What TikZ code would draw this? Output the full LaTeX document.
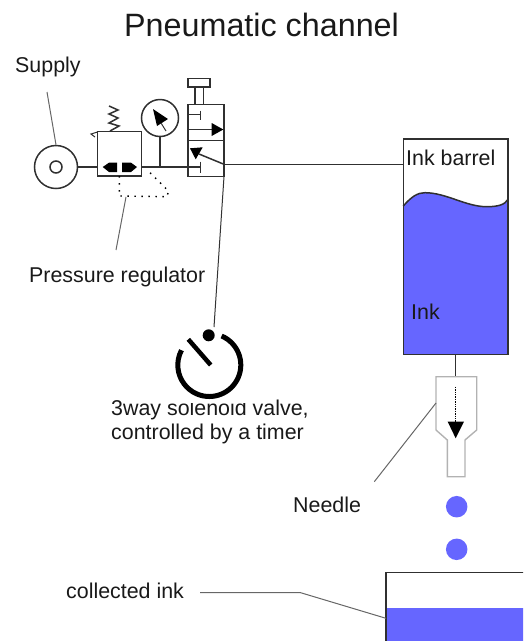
\documentclass[tikz,border=0pt]{standalone}
\usepackage{fontspec}
\setmainfont{Liberation Sans}
\usetikzlibrary{calc}
\definecolor{inkblue}{HTML}{6666FF}
\definecolor{wiregray}{HTML}{303030}
\begin{document}
\begin{tikzpicture}[x=1pt,y=-1pt,%
                    wire/.style={draw=wiregray,line width=1.5pt},%
                    leader/.style={draw=gray!80!black,line width=1pt},%
                    solid tip/.style={fill=black,draw=none},%
                    label/.style={inner sep=0pt,anchor=base west,font=\fontsize{21.4}{25}\selectfont,text=black!90},%
                    drop/.style={circle,fill=inkblue,inner sep=0pt,minimum size=21.5pt}%
                    ]%
\useasboundingbox (0,0) rectangle (523,641);%
\clip (0,0) rectangle (523,641);%
% texts
\node[label,font=\fontsize{32.3}{38}\selectfont] (title) at (124,36) {Pneumatic channel};%
\node[label] (supplytext) at (15,72) {Supply};%
\node[label] (regtext) at (29,282) {Pressure regulator};%
\node[label] (valvetext) at (111,415) {3way solenoid valve,};%
\node[label] (timertext) at (111,439) {controlled by a timer};%
\node[label] (needletext) at (293,512) {Needle};%
\node[label] (collecttext) at (66,598) {collected ink};%
\fill[white] (172,392) rectangle (250,403);%
% supply
\node[circle,wire,minimum size=43pt,inner sep=0pt] (supply) at (56,167) {};%
\node[circle,wire,minimum size=12pt,inner sep=0pt] at (supply) {};%
\coordinate (supplytop) at (47,92);%
\draw[leader] (supplytop) -- (supply.north);%
% regulator
\node[rectangle,wire,minimum width=44pt,minimum height=44.5pt,inner sep=0pt] (reg) at (119.5,153.7) {};%
\draw[wire] (supply) ++(21.5,0) -- (supply -| reg.west);%
\draw[wire] (110,131) -- (119,126) -- (109,123) -- (118,118) -- (109,114) -- (118,110) -- (109,106);%
\draw[wire,line width=1pt] (97.5,132) -- (91,134) -- (95,137);%
\fill[solid tip] (102.7,167) -- (109,162.7) -- (117,162.7) -- (117,172) -- (109,172) -- cycle;%
\fill[solid tip] (122,162.7) -- (131,162.7) -- (137,167) -- (131,172) -- (122,172) -- cycle;%
\draw[black,line width=1.4pt,dash pattern=on 1.5pt off 5.5pt] (119.3,176) -- (119.3,196) -- (167,196.7) -- (168.5,191) -- (150,172.7);%
\coordinate (regbend) at (126,197);%
\coordinate (regend) at (116,250);%
\draw[leader] (regbend) -- (regend);%
% gauge
\node[circle,wire,minimum size=37pt,inner sep=0pt] (gauge) at (160,118) {};%
\coordinate (gaugefoot) at (160,167);%
\draw[wire] (gauge.south) -- (gaugefoot);%
\fill[solid tip] (153,109) -- (168,119) -- (157,126) -- cycle;%
\draw[wire,line width=1pt] (161,123) -- (166,131);%
% valve
\node[rectangle,wire,minimum width=36pt,minimum height=72pt,inner sep=0pt] (valve) at (206,140.5) {};%
\node[rectangle,wire,minimum width=8.5pt,minimum height=17.5pt,inner sep=0pt] (stem) at (199.2,95.5) {};%
\node[rectangle,wire,minimum width=22pt,minimum height=8.5pt,inner sep=0pt] (button) at (199.2,82.5) {};%
\draw[wire] (valve.west) -- (valve.east);%
\draw[wire] (188,114.3) -- (200.7,114.3) (200.7,110.7) -- (200.7,120);%
\draw[wire] (188,129.3) -- (212,129.3);%
\fill[solid tip] (211.7,123) -- (223.3,129.5) -- (211.7,136) -- cycle;%
\coordinate (valveport) at (224,164.3);%
\coordinate (valvefoot) at (224,176.5);%
\draw[wire] (reg.east |- gaugefoot) -- (200.7,167) (200.7,161.7) -- (200.7,173);%
\draw[wire] (199,154) -- (valveport);%
\fill[solid tip] (190,148.3) -- (202.7,147.3) -- (195.7,159.3) -- cycle;%
% barrel
\fill[inkblue] (403.3,206) .. controls (412,196) and (418,192.7) .. (425,192.7) .. controls (446,192.7) and (466,206.7) .. (486.7,206.7) .. controls (497,206.7) and (505,205) .. (508,199.3) -- (508,354.3) -- (403.3,354.3) -- cycle;%
\draw[wire] (403.3,206) .. controls (412,196) and (418,192.7) .. (425,192.7) .. controls (446,192.7) and (466,206.7) .. (486.7,206.7) .. controls (497,206.7) and (505,205) .. (508,199.3);%
\node[rectangle,wire,minimum width=104.7pt,minimum height=215.3pt,inner sep=0pt] (barrel) at (455.65,246.65) {};%
\node[label] (barreltext) at (406,165.7) {Ink barrel};%
\node[label] (inktext) at (411,319) {Ink};%
\draw[wire] (valveport) -- (valveport -| barrel.west);%
% needle
\coordinate (needletop) at (455.7,376.7);%
\draw[wire] (needletop |- barrel.south) -- (needletop);%
\draw[draw=black!30,line width=1.4pt] (436,376.7) -- (476.7,376.7) -- (476.7,430) -- (465,440) -- (465,476.7) -- (447.3,476.7) -- (447.3,440) -- (436,430) -- cycle;%
\draw[black,line width=1.4pt,densely dotted] (455.7,386.7) -- (455.7,424);%
\fill[solid tip] (447.7,421.7) -- (464,421.7) -- (455.7,438.3) -- cycle;%
\coordinate (needleside) at (436,403);%
\coordinate (needleend) at (374.3,481.7);%
\draw[leader] (needleside) -- (needleend);%
\node[drop] (dropa) at (456.7,506.7) {};%
\node[drop] (dropb) at (456.7,549.3) {};%
% collector
\fill[inkblue] (386,607.7) rectangle (530,650);%
\draw[wire] (386,650) -- (386,572.3) -- (530,572.3);%
\coordinate (collectstart) at (200,592.5);%
\coordinate (collectbend) at (300,592.5);%
\coordinate (collectend) at (386,618.3);%
\draw[leader] (collectstart) -- (collectbend) -- (collectend);%
% timer
\coordinate (timer) at (209.3,365);%
\draw[leader,black!80] (valvefoot) -- (214,327);%
\draw[black,line width=5pt] ($(timer)+(67:31.5 and -31.5)$) arc[start angle=-67,end angle=208,radius=31.5];%
\fill[black] (208.7,335.3) circle (6);%
\draw[black,line width=4.5pt] (188.3,339.3) -- (210.7,365);%
\end{tikzpicture}
\end{document}
